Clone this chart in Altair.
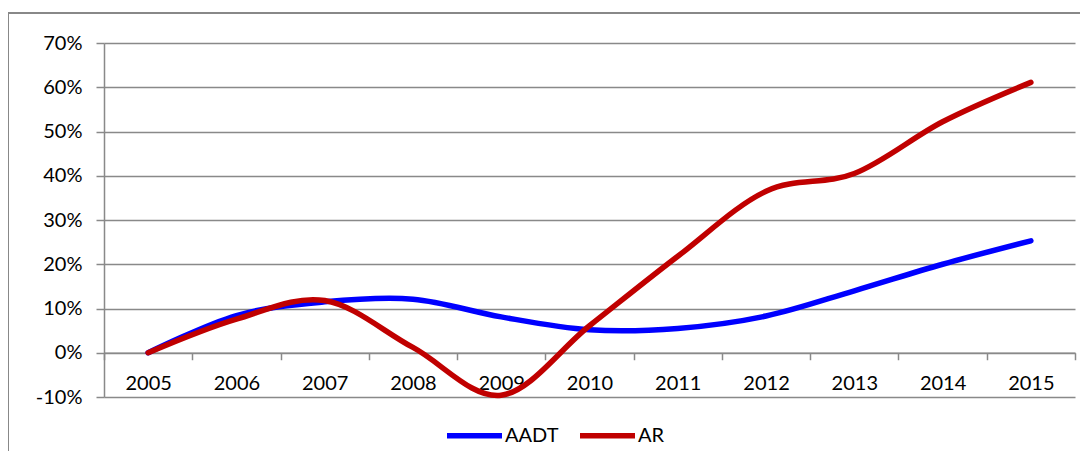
import altair as alt
import pandas as pd

years = ["2005", "2006", "2007", "2008", "2009", "2010", "2011", "2012", "2013", "2014", "2015"]
aadt = [0.0, 0.084, 0.115, 0.121, 0.081, 0.052, 0.055, 0.083, 0.14, 0.20, 0.253]
ar = [0.0, 0.076, 0.118, 0.012, -0.096, 0.061, 0.218, 0.365, 0.405, 0.522, 0.611]
series = ["AADT", "AR"]
colors = ["#0000FF", "#C00000"]
y_ticks = [-0.1, 0.0, 0.1, 0.2, 0.3, 0.4, 0.5, 0.6, 0.7]

rows = []
for name, vals in zip(series, [aadt, ar]):
    for yr, v in zip(years, vals):
        rows.append({"Year": yr, "Value": v, "Series": name})
df = pd.DataFrame(rows)

GRAY = "#898989"
FONT = "Lato"
W, H = 971, 354

lines = alt.Chart(df).mark_line(
    strokeWidth=5.5, strokeCap="round", strokeJoin="round", interpolate="cardinal"
).encode(
    x=alt.X(
        "Year:O",
        sort=years,
        bandPosition=0.5,
        scale=alt.Scale(type="band", paddingInner=0, paddingOuter=0),
        axis=alt.Axis(
            title=None,
            orient="bottom",
            offset=-H / 8,
            labelAngle=0,
            labelFont=FONT,
            labelFontSize=20,
            labelColor="#000000",
            labelPadding=14,
            domainColor=GRAY,
            domainWidth=1.5,
            tickColor=GRAY,
            tickWidth=1.5,
            tickSize=7,
            tickBand="extent",
            grid=False,
        ),
    ),
    y=alt.Y(
        "Value:Q",
        scale=alt.Scale(domain=[-0.1, 0.7], nice=False, zero=False),
        axis=alt.Axis(
            title=None,
            values=y_ticks,
            labelExpr="datum.value < 0 ? '-' + format(-datum.value, '.0%') : format(datum.value, '.0%')",
            labelFont=FONT,
            labelFontSize=20,
            labelColor="#000000",
            labelPadding=14,
            domainColor=GRAY,
            domainWidth=1.5,
            tickColor=GRAY,
            tickWidth=1.5,
            tickSize=8,
            grid=True,
            gridColor=GRAY,
            gridWidth=1.5,
        ),
    ),
    color=alt.Color(
        "Series:N",
        scale=alt.Scale(domain=series, range=colors),
        legend=alt.Legend(
            title=None,
            orient="none",
            legendX=340,
            legendY=362,
            direction="horizontal",
            symbolType="stroke",
            symbolSize=3025,
            symbolStrokeWidth=5.5,
            labelFont=FONT,
            labelFontSize=20,
            labelColor="#000000",
            labelOffset=0,
            columnPadding=10,
        ),
    ),
)

frame_top = alt.Chart(df).mark_rule(color=GRAY, strokeWidth=1.5, clip=False).encode(
    x=alt.value(-96), x2=alt.value(W + 40), y=alt.value(-30)
)
frame_left = alt.Chart(df).mark_rule(color=GRAY, strokeWidth=1.5, clip=False).encode(
    x=alt.value(-96), y=alt.value(-30), y2=alt.value(H + 80)
)

chart = alt.layer(frame_top, frame_left, lines).properties(
    width=W,
    height=H,
    autosize=alt.AutoSizeParams(type="none"),
    padding={"left": 96, "top": 35, "right": 5, "bottom": 54},
).configure_view(strokeWidth=0)

chart.save("out.html", embed_options={"renderer": "svg", "actions": False})
